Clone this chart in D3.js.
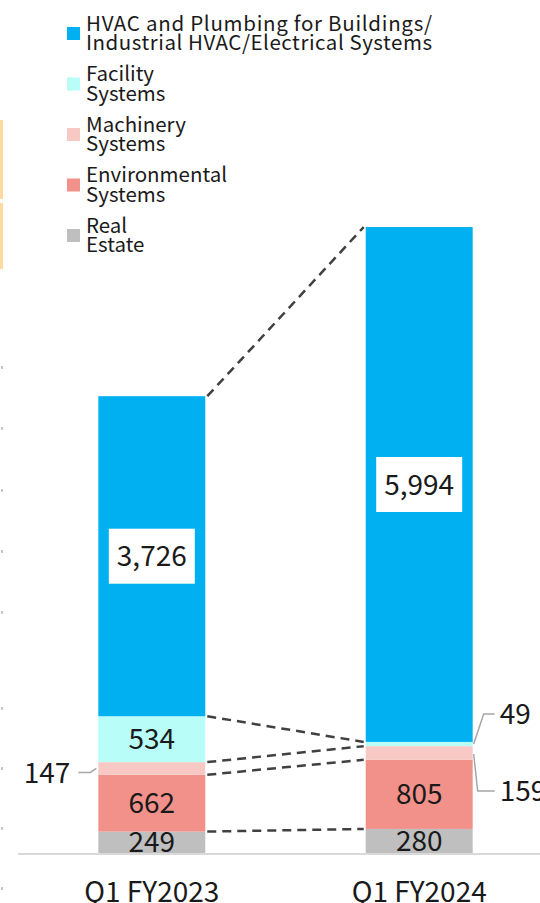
<!DOCTYPE html>
<html>
<head>
<meta charset="utf-8">
<script src="https://cdn.jsdelivr.net/npm/d3@7"></script>
<style>
  html, body { margin: 0; padding: 0; background: #fff; }
  svg { display: block; font-family: "Noto Sans CJK JP", "Noto Sans", sans-serif; }
</style>
</head>
<body>
<script>
// quarters on the x axis
var periods = ["Q1 FY2023", "Q1 FY2024"];

// segments, bottom of the stack first
var segments = ["realEstate", "environmental", "machinery", "facility", "hvac"];
var segmentLabels = {
    hvac: ["HVAC and Plumbing for Buildings/", "Industrial HVAC/Electrical Systems"],
    facility: ["Facility", "Systems"],
    machinery: ["Machinery", "Systems"],
    environmental: ["Environmental", "Systems"],
    realEstate: ["Real", "Estate"]
};
var segmentColors = {
    hvac: "#00b0f0",
    facility: "#b8fdf8",
    machinery: "#f8c9c4",
    environmental: "#f2918a",
    realEstate: "#bfbfbf"
};

// values per period (same order as periods)
var hvac = [3726, 5994];
var facility = [534, 49];
var machinery = [147, 159];
var environmental = [662, 805];
var realEstate = [249, 280];

// legend top to bottom
var legendOrder = ["hvac", "facility", "machinery", "environmental", "realEstate"];


function segmentChart() {

    this.init = function () {
        var width = 540, height = 903;

        var svg = d3.select("body")
            .append("svg")
            .attr("width", width)
            .attr("height", height);

        var rows = periods.map(function (p, i) {
            return {
                period: p,
                hvac: hvac[i],
                facility: facility[i],
                machinery: machinery[i],
                environmental: environmental[i],
                realEstate: realEstate[i]
            };
        });

        var stacked = d3.stack().keys(segments)(rows);

        var x = d3.scaleBand()
            .domain(periods)
            .range([-22, 593])
            .paddingInner(0.6)
            .paddingOuter(0.45);

        var y = d3.scaleLinear()
            .domain([0, 8000])
            .range([853, 165.8]);

        this.drawCropMarks(svg);
        this.drawLegend(svg);
        this.drawConnectors(svg, stacked, x, y);
        this.drawBars(svg, stacked, x, y);
        this.drawAxis(svg, x, y);
        this.drawLabels(svg, stacked, x, y);
    };


    // bits of the neighbouring slide that got cropped in
    this.drawCropMarks = function (svg) {
        [[120, 199], [203, 269]].forEach(function (r) {
            svg.append("rect")
                .attr("x", 0).attr("y", r[0])
                .attr("width", 3).attr("height", r[1] - r[0])
                .attr("fill", "#fed9a0");
        });
        [367, 428, 490, 551, 612, 708, 768, 828, 888].forEach(function (ty) {
            svg.append("rect")
                .attr("x", 1).attr("y", ty - 1)
                .attr("width", 2).attr("height", 3)
                .attr("fill", "#c8c8c8");
        });
    };


    this.drawLegend = function (svg) {
        legendOrder.forEach(function (key, i) {
            var cy = 33.5 + i * 50.5;
            var g = svg.append("g");

            g.append("rect")
                .attr("x", 67)
                .attr("y", cy - 6.5)
                .attr("width", 13)
                .attr("height", 13)
                .attr("fill", segmentColors[key]);

            var text = g.append("text")
                .attr("x", 86)
                .attr("y", cy - 3)
                .attr("font-size", 20.5)
                .attr("fill", "#1a1a1a");

            segmentLabels[key].forEach(function (line, j) {
                var t = text.append("tspan")
                    .attr("x", 86)
                    .attr("dy", j === 0 ? 0 : 19.5)
                    .text(line);
                // the long lines run a bit wider in the original font
                if (key === "hvac") {
                    t.attr("textLength", 346).attr("lengthAdjust", "spacing");
                }
            });
        });
    };


    this.drawConnectors = function (svg, stacked, x, y) {
        var x1 = x(periods[0]) + x.bandwidth() + 2;
        var x2 = x(periods[1]) - 2;
        var levels = [];

        // bottom of every segment above the base, plus the very top
        stacked.forEach(function (layer, k) {
            if (k > 0) levels.push([layer[0][0], layer[1][0]]);
        });
        var last = stacked[stacked.length - 1];
        levels.push([last[0][1], last[1][1]]);

        levels.forEach(function (l) {
            svg.append("line")
                .attr("x1", x1).attr("y1", y(l[0]))
                .attr("x2", x2).attr("y2", y(l[1]))
                .attr("stroke", "#404040")
                .attr("stroke-width", 2.5)
                .attr("stroke-dasharray", "9,6");
        });
    };


    this.drawBars = function (svg, stacked, x, y) {
        stacked.forEach(function (layer) {
            svg.append("g")
                .selectAll("rect")
                .data(layer)
                .enter()
                .append("rect")
                .attr("x", function (d) { return x(d.data.period); })
                .attr("y", function (d) { return y(d[1]); })
                .attr("width", x.bandwidth())
                .attr("height", function (d) { return y(d[0]) - y(d[1]); })
                .attr("fill", segmentColors[layer.key]);
        });
    };


    this.drawAxis = function (svg, x, y) {
        svg.append("line")
            .attr("x1", 18).attr("x2", 540)
            .attr("y1", y(0) + 1).attr("y2", y(0) + 1)
            .attr("stroke", "#d9d9d9")
            .attr("stroke-width", 2);

        svg.append("g")
            .selectAll("text")
            .data(periods)
            .enter()
            .append("text")
            .attr("x", function (d) { return x(d) + x.bandwidth() / 2; })
            .attr("y", 902)
            .attr("text-anchor", "middle")
            .attr("font-size", 28)
            .attr("fill", "#1a1a1a")
            .text(function (d) { return d; });
    };


    this.drawLabels = function (svg, stacked, x, y) {
        var fmt = d3.format(",");
        var byKey = {};
        stacked.forEach(function (layer) { byKey[layer.key] = layer; });

        // values written inside the bar
        var inside = [
            ["hvac", 0, true], ["hvac", 1, true],
            ["facility", 0, false],
            ["environmental", 0, false], ["environmental", 1, false],
            ["realEstate", 0, false], ["realEstate", 1, false]
        ];

        inside.forEach(function (item) {
            var d = byKey[item[0]][item[1]];
            var cx = x(d.data.period) + x.bandwidth() / 2;
            var cy = (y(d[0]) + y(d[1])) / 2;

            if (item[2]) {
                svg.append("rect")
                    .attr("x", cx - 43)
                    .attr("y", cy - 27.5)
                    .attr("width", 86)
                    .attr("height", 55)
                    .attr("fill", "#fff");
            }

            svg.append("text")
                .attr("x", cx)
                .attr("y", cy)
                .attr("dy", "0.36em")
                .attr("text-anchor", "middle")
                .attr("font-size", 28)
                .attr("fill", "#1a1a1a")
                .text(fmt(d[1] - d[0]));
        });

        // small slices get a leader line
        var callouts = [
            {key: "machinery", i: 0, side: -1, pts: [[-2, 0], [-8, 4], [-20, 4]], tx: -28, ty: 4},
            {key: "facility", i: 1, side: 1, pts: [[1, 0], [11, -30], [22, -30]], tx: 27, ty: -30},
            {key: "machinery", i: 1, side: 1, pts: [[1, 1], [5, 38], [22, 38]], tx: 27, ty: 38}
        ];

        callouts.forEach(function (c) {
            var d = byKey[c.key][c.i];
            var ex = c.side < 0 ? x(d.data.period) : x(d.data.period) + x.bandwidth();
            var cy = (y(d[0]) + y(d[1])) / 2;

            svg.append("path")
                .attr("d", d3.line()(c.pts.map(function (p) { return [ex + p[0], cy + p[1]]; })))
                .attr("fill", "none")
                .attr("stroke", "#a6a6a6")
                .attr("stroke-width", 1.5);

            svg.append("text")
                .attr("x", ex + c.tx)
                .attr("y", cy + c.ty)
                .attr("dy", "0.36em")
                .attr("text-anchor", c.side < 0 ? "end" : "start")
                .attr("font-size", 28)
                .attr("fill", "#1a1a1a")
                .text(fmt(d[1] - d[0]));
        });
    };

}


window.onload = function () {
    new segmentChart().init();
};
</script>
</body>
</html>
